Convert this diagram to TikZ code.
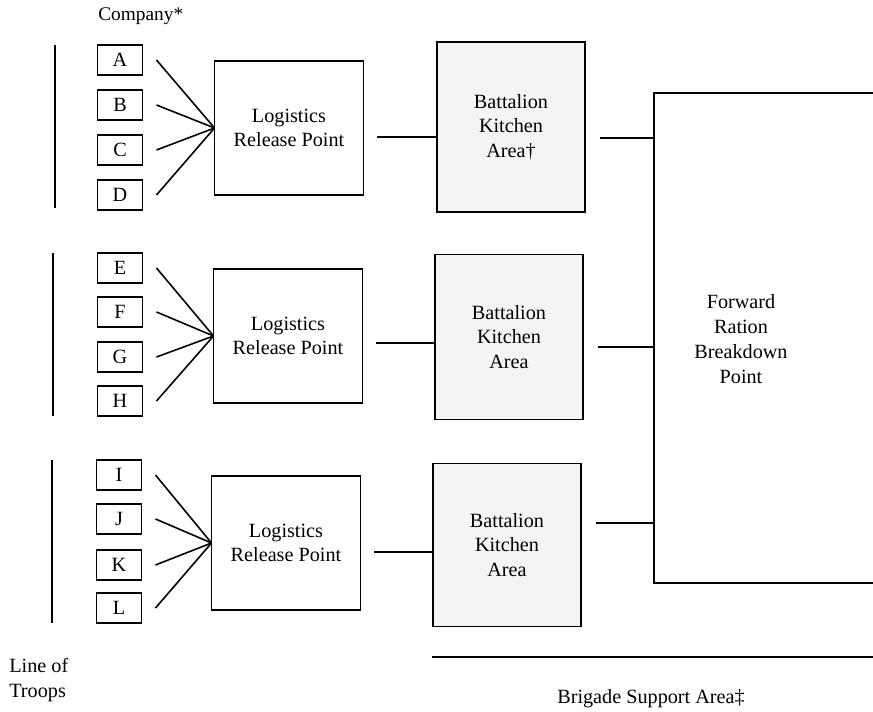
\documentclass[tikz,border=0pt]{standalone}
\usepackage{fontspec}
\setmainfont{Liberation Serif}
\usepackage{tikz}
\usetikzlibrary{positioning,calc}

\tikzset{
  company/.style={draw, line width=0.9pt, minimum width=0.9cm, minimum height=0.6cm, inner sep=0pt, outer sep=0pt},
  lrp/.style={draw, line width=0.9pt, minimum width=2.98cm, minimum height=2.68cm, align=center, inner sep=0pt, outer sep=0pt},
  kitchen/.style={draw, line width=0.9pt, fill=gray!9, minimum width=2.96cm, align=center, inner sep=0pt, outer sep=0pt},
  link/.style={line width=0.9pt}
}

\begin{document}
\begin{tikzpicture}[x=0.02cm, y=-0.02cm, font=\fontsize{11.5}{13.8}\selectfont]
        \clip (0, 0) rectangle (873, 712);
        \fill[white] (0, 0) rectangle (873, 712);

        % Company boxes
        \node[font=\fontsize{11}{13}\selectfont, anchor=west, inner sep=0pt] (comp) at (98, 16) {Company*};
        \node[company] (A) at (120, 60) {A};
        \node[company] (B) at (120, 105) {B};
        \node[company] (C) at (120, 150) {C};
        \node[company] (D) at (120, 195) {D};
        \node[company] (E) at (120, 268) {E};
        \node[company] (F) at (120, 312) {F};
        \node[company] (G) at (120, 357) {G};
        \node[company] (H) at (120, 401) {H};
        \node[company] (I) at (119, 475) {I};
        \node[company] (J) at (119, 519) {J};
        \node[company] (K) at (119, 565) {K};
        \node[company] (L) at (119, 608) {L};

        % Line of troops
        \draw[link] (55, 45) -- (55, 208);
        \draw[link] (53, 253) -- (53, 416);
        \draw[link] (52, 460) -- (52, 623);
        \node[align=left, anchor=west, inner sep=0pt] (troops) at (9, 680) {Line of\\Troops};

        % Logistics release points
        \node[lrp] (lrp1) at (289, 128) {Logistics\\Release Point};
        \node[lrp] (lrp2) at (288, 336) {Logistics\\Release Point};
        \node[lrp] (lrp3) at (286, 543) {Logistics\\Release Point};

        % Battalion kitchen areas
        \node[kitchen, minimum height=3.4cm] (bka1) at (511, 127) {Battalion\\Kitchen\\Area†};
        \node[kitchen, minimum height=3.3cm] (bka2) at (509, 337) {Battalion\\Kitchen\\Area};
        \node[kitchen, minimum height=3.26cm] (bka3) at (507, 545) {Battalion\\Kitchen\\Area};

        % Forward ration breakdown point (runs off the right edge)
        \node[draw, line width=0.9pt, minimum width=6.92cm, minimum height=9.8cm, inner sep=0pt, outer sep=0pt] (frbp) at (827, 338) {};
        \node[align=center, font=\fontsize{11.5}{14.2}\selectfont] (frbptext) at (741, 339) {Forward\\Ration\\Breakdown\\Point};

        % Fans into the release points
        \foreach \c in {A, B, C, D}
          \draw[link] ([xshift=0.28cm]\c.east) -- (lrp1.west);
        \foreach \c in {E, F, G, H}
          \draw[link] ([xshift=0.28cm]\c.east) -- (lrp2.west);
        \foreach \c in {I, J, K, L}
          \draw[link] ([xshift=0.28cm]\c.east) -- (lrp3.west);

        % Release points to kitchens
        \draw[link] ([xshift=0.28cm, yshift=-0.18cm]lrp1.east) -- ([yshift=-0.18cm]lrp1.east -| bka1.west);
        \draw[link] ([xshift=0.28cm, yshift=-0.14cm]lrp2.east) -- ([yshift=-0.14cm]lrp2.east -| bka2.west);
        \draw[link] ([xshift=0.28cm, yshift=-0.18cm]lrp3.east) -- ([yshift=-0.18cm]lrp3.east -| bka3.west);

        % Kitchens to breakdown point
        \draw[link] ([xshift=0.3cm, yshift=-0.22cm]bka1.east) -- ([yshift=-0.22cm]bka1.east -| frbp.west);
        \draw[link] ([xshift=0.3cm, yshift=-0.2cm]bka2.east) -- ([yshift=-0.2cm]bka2.east -| frbp.west);
        \draw[link] ([xshift=0.3cm, yshift=0.44cm]bka3.east) -- ([yshift=0.44cm]bka3.east -| frbp.west);

        % Brigade support area
        \draw[link] (432, 657) -- (873, 657);
        \node (bsa) at (651, 699) {Brigade Support Area‡};
    \end{tikzpicture}
\end{document}
